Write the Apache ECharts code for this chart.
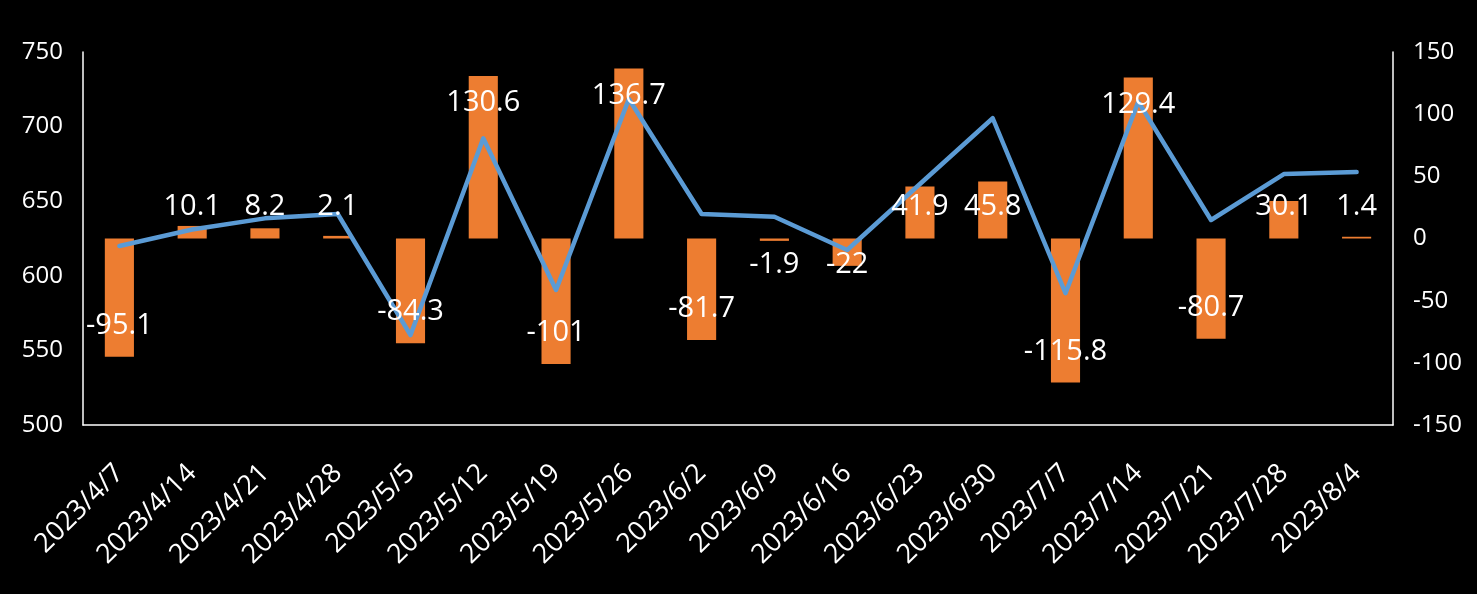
<!DOCTYPE html>
<html>
<head>
<meta charset="utf-8">
<script src="https://cdn.jsdelivr.net/npm/echarts@6/dist/echarts.min.js"></script>
<style>
html,body{margin:0;padding:0;background:#000;}
#c{width:1477px;height:594px;}
</style>
</head>
<body>
<div id="c"></div>
<script>
const categories = ['2023/4/7','2023/4/14','2023/4/21','2023/4/28','2023/5/5','2023/5/12','2023/5/19','2023/5/26','2023/6/2','2023/6/9','2023/6/16','2023/6/23','2023/6/30','2023/7/7','2023/7/14','2023/7/21','2023/7/28','2023/8/4'];
const barValues = [-95.1, 10.1, 8.2, 2.1, -84.3, 130.6, -101, 136.7, -81.7, -1.9, -22, 41.9, 45.8, -115.8, 129.4, -80.7, 30.1, 1.4];
const lineValues = [620.0, 631.0, 638.5, 641.4, 560.3, 692.2, 590.5, 718.5, 641.4, 639.6, 617.3, 661.5, 705.6, 588.3, 716.7, 637.4, 668.2, 669.6];
const leftAxisTicks = {min: 500, max: 750, interval: 50};
const rightAxisTicks = {min: -150, max: 150, interval: 50};

// label anchor (in right-axis units): inside the bar end, kept clear of the zero line
const labelAnchor = barValues.map(v => v >= 0 ? Math.max(v - 21.5, 25.3) : Math.min(v + 25, -21.5));

const FONT = '"Open Sans", "Noto Sans", sans-serif';
const chart = echarts.init(document.getElementById('c'));
chart.setOption({
  backgroundColor: '#000000',
  animation: false,
  grid: {left: 83, right: 84, top: 52, bottom: 169, containLabel: false},
  xAxis: {
    type: 'category',
    data: categories,
    axisLine: {onZero: false, lineStyle: {color: '#ffffff', width: 1.5}},
    axisTick: {show: false},
    axisLabel: {color: '#ffffff', fontSize: 27, fontFamily: FONT, rotate: 45, interval: 0, margin: 44}
  },
  yAxis: [
    {
      type: 'value', min: leftAxisTicks.min, max: leftAxisTicks.max, interval: leftAxisTicks.interval,
      axisLine: {show: true, lineStyle: {color: '#ffffff', width: 1.5}},
      axisTick: {show: false},
      splitLine: {show: false},
      axisLabel: {color: '#ffffff', fontSize: 24, fontFamily: FONT, margin: 20}
    },
    {
      type: 'value', min: rightAxisTicks.min, max: rightAxisTicks.max, interval: rightAxisTicks.interval,
      position: 'right',
      axisLine: {show: true, lineStyle: {color: '#ffffff', width: 1.5}},
      axisTick: {show: false},
      splitLine: {show: false},
      axisLabel: {color: '#ffffff', fontSize: 24, fontFamily: FONT, margin: 20, align: 'left'}
    }
  ],
  series: [
    {
      type: 'bar', yAxisIndex: 1, data: barValues, barWidth: '40%',
      itemStyle: {color: '#ED7D31'}, z: 2
    },
    {
      type: 'line', yAxisIndex: 0, data: lineValues, showSymbol: false, symbol: 'none',
      lineStyle: {color: '#5B9BD5', width: 4.5, join: 'round', cap: 'round'}, z: 3
    },
    {
      type: 'scatter', yAxisIndex: 1, data: labelAnchor, symbolSize: 0, silent: true, z: 5,
      itemStyle: {opacity: 1, color: 'transparent'},
      label: {
        show: true, position: 'inside', color: '#ffffff', opacity: 1, fontSize: 29, fontFamily: FONT,
        formatter: p => String(barValues[p.dataIndex])
      }
    }
  ]
});
</script>
</body>
</html>
